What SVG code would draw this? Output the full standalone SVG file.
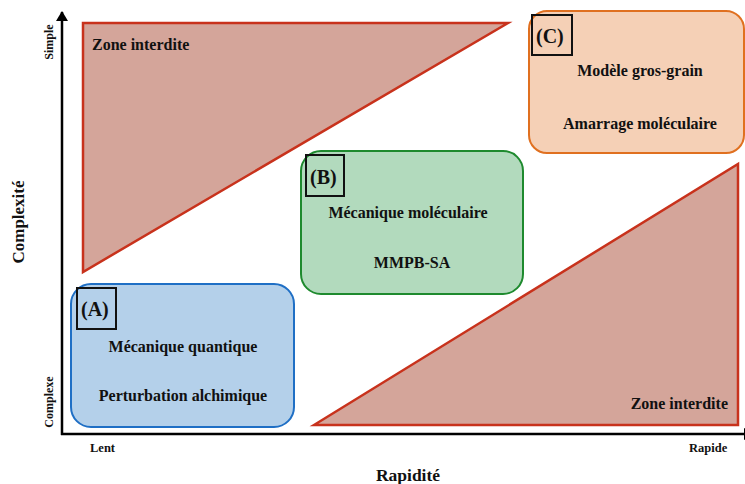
<svg xmlns="http://www.w3.org/2000/svg" width="745" height="484" viewBox="0 0 745 484">
<style>
text{font-family:'Liberation Serif','DejaVu Serif',serif;font-weight:bold;fill:#111}
.zone{fill:#d4a59a;stroke:#c8321c;stroke-width:2.5;stroke-linejoin:miter}
.t{font-size:16px;text-anchor:middle}
.lab{font-size:20px}
.lbox{fill:none;stroke:#111;stroke-width:2}
.ax{font-size:12.5px}
</style>
<defs>
<marker id="arr" markerWidth="10" markerHeight="12" refX="9" refY="6" orient="auto" markerUnits="userSpaceOnUse">
<path d="M0,0 L10,6 L0,12 Z" fill="#000"/>
</marker>
</defs>
<rect width="745" height="484" fill="#fff"/>
<g id="zone-top">
<polygon class="zone" points="83,23 508,23 83,272"/>
<text x="92" y="50" style="font-size:16px">Zone interdite</text>
</g>
<g id="zone-bottom">
<polygon class="zone" points="314,425 738,164 738,425"/>
<text x="728" y="409" style="font-size:16px;text-anchor:end">Zone interdite</text>
</g>
<g id="connectors">
<line x1="62" y1="435" x2="62" y2="12" stroke="#000" stroke-width="2.5" marker-end="url(#arr)"/>
<line x1="61" y1="434" x2="753" y2="434" stroke="#000" stroke-width="2.5" marker-end="url(#arr)"/>
</g>
<g id="axes-labels">
<text class="ax" transform="translate(53,42) rotate(-90)" text-anchor="middle" style="font-size:12px">Simple</text>
<text class="ax" transform="translate(53,402) rotate(-90)" text-anchor="middle" style="font-size:12px">Complexe</text>
<text transform="translate(24,222) rotate(-90)" text-anchor="middle" style="font-size:17px">Complexité</text>
<text class="ax" x="90" y="452">Lent</text>
<text class="ax" x="689" y="452">Rapide</text>
<text x="408" y="481" text-anchor="middle" style="font-size:17.5px">Rapidité</text>
</g>
<g id="box-A">
<rect x="71" y="284" width="223" height="143" rx="20" fill="#b4d0ea" stroke="#1f6fc5" stroke-width="2"/>
<rect class="lbox" x="77" y="288" width="39" height="41"/>
<text class="lab" x="81" y="316">(A)</text>
<text class="t" x="183" y="352">Mécanique quantique</text>
<text class="t" x="183" y="401">Perturbation alchimique</text>
</g>
<g id="box-B">
<rect x="301" y="151" width="222" height="143" rx="20" fill="#b2dabd" stroke="#1e8a2e" stroke-width="2"/>
<rect class="lbox" x="306" y="155" width="38" height="41"/>
<text class="lab" x="310" y="184">(B)</text>
<text class="t" x="408" y="218">Mécanique moléculaire</text>
<text class="t" x="412" y="268">MMPB-SA</text>
</g>
<g id="box-C">
<rect x="529" y="11" width="215" height="142" rx="18" fill="#f5d0b6" stroke="#e07020" stroke-width="2"/>
<rect class="lbox" x="532" y="15" width="40" height="40"/>
<text class="lab" x="536" y="43">(C)</text>
<text class="t" x="640" y="76">Modèle gros-grain</text>
<text class="t" x="640" y="129">Amarrage moléculaire</text>
</g>
</svg>
